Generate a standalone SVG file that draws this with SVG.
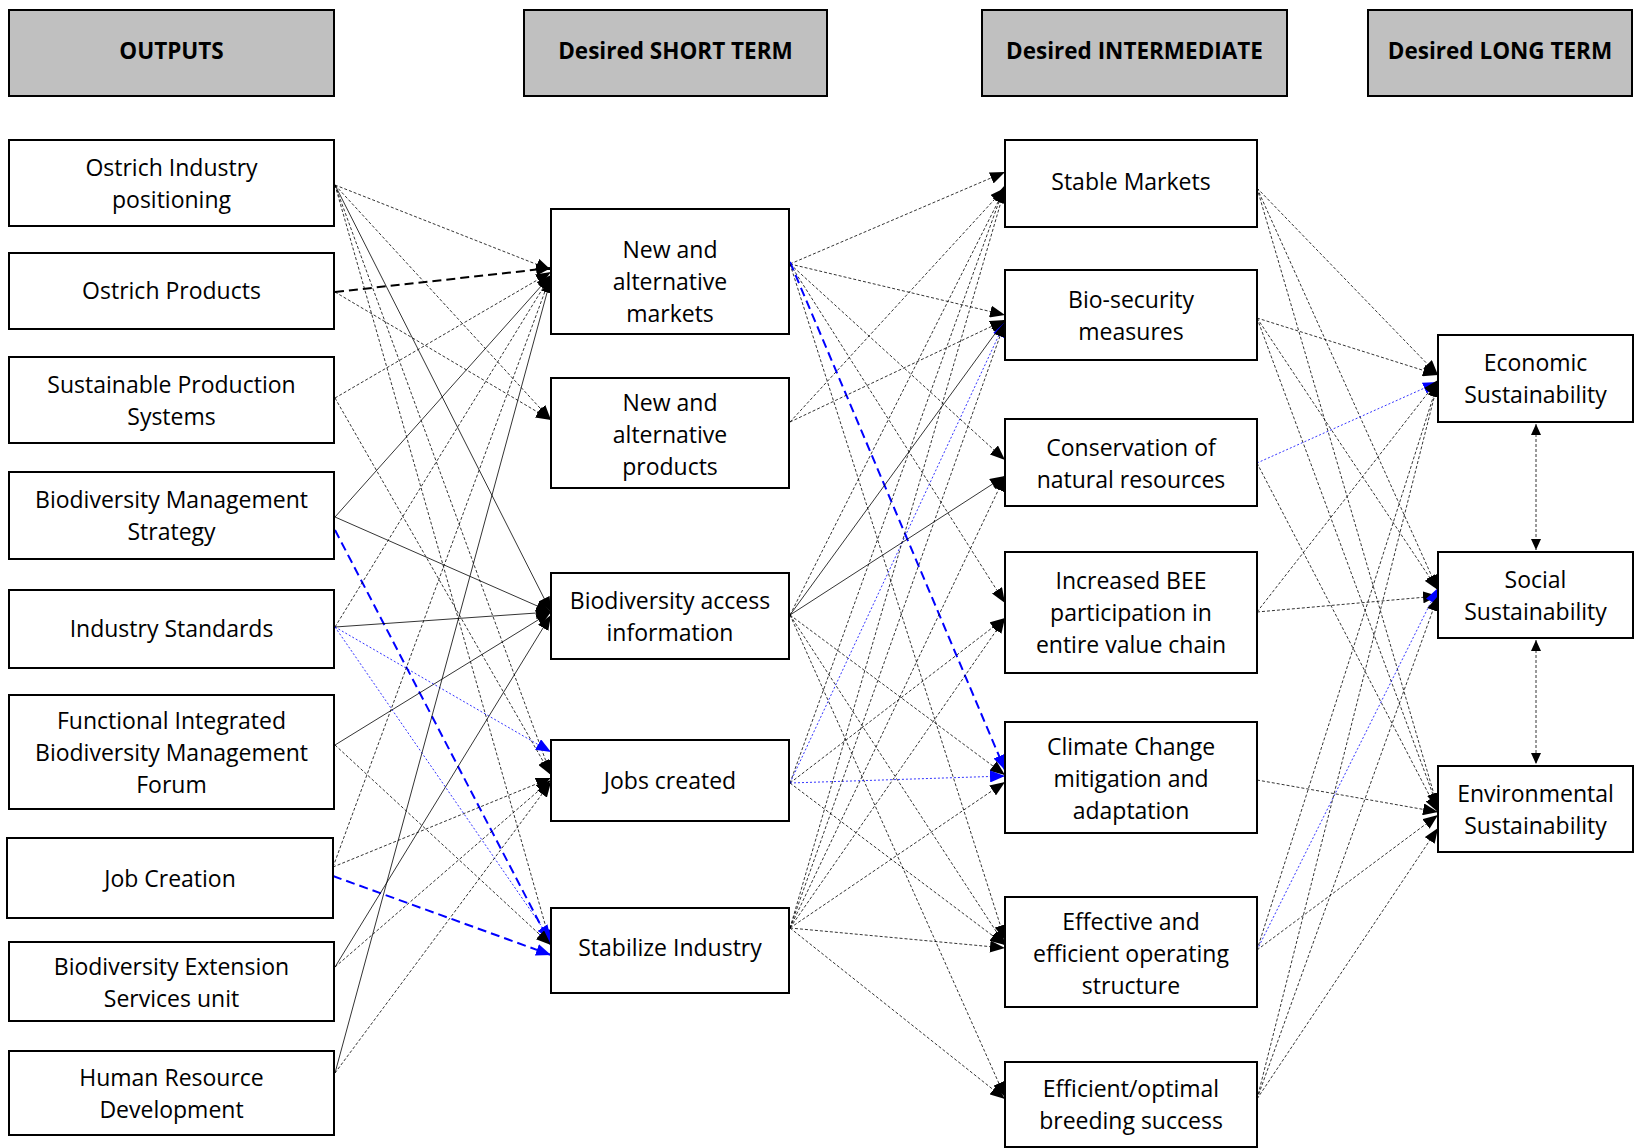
<svg xmlns="http://www.w3.org/2000/svg" width="1635" height="1148" viewBox="0 0 1635 1148">
<style>
.box{fill:#fff;stroke:#000;stroke-width:2}
.hdr{fill:#c0c0c0;stroke:#000;stroke-width:2}
text{font-family:"Open Sans","Liberation Sans",sans-serif;font-size:23px;fill:#000;text-anchor:middle}
.ht{font-weight:bold;font-size:22.5px}
.d{stroke:#000;stroke-width:0.8;stroke-dasharray:3 2;fill:none;marker-end:url(#ab)}
.s{stroke:#000;stroke-width:0.8;fill:none;marker-end:url(#ab)}
.tk{stroke:#000;stroke-width:2;stroke-dasharray:9 5;fill:none;marker-end:url(#ab)}
.bt{stroke:#00f;stroke-width:2;stroke-dasharray:9 5;fill:none;marker-end:url(#au)}
.bd{stroke:#00f;stroke-width:0.8;stroke-dasharray:2 2;fill:none;marker-end:url(#au)}
.bi{stroke:#000;stroke-width:0.8;stroke-dasharray:3 2;fill:none;marker-start:url(#as);marker-end:url(#as)}
</style>
<defs>
<marker id="ab" markerUnits="userSpaceOnUse" markerWidth="15" markerHeight="12" refX="15" refY="6" orient="auto"><path d="M0,0 L15,6 L0,12 z" fill="#000"/></marker>
<marker id="au" markerUnits="userSpaceOnUse" markerWidth="15" markerHeight="12" refX="15" refY="6" orient="auto"><path d="M0,0 L15,6 L0,12 z" fill="#00f"/></marker>
<marker id="as" markerUnits="userSpaceOnUse" markerWidth="11" markerHeight="10" refX="11" refY="5" orient="auto-start-reverse"><path d="M0,0 L11,5 L0,10 z" fill="#000"/></marker>
</defs>
<rect width="1635" height="1148" fill="#fff"/>
<g id="connectors">
<path class="d" d="M335,185 L551,270"/>
<path class="d" d="M335,185 L551,420"/>
<path class="s" d="M335,185 L551,612"/>
<path class="d" d="M335,185 L551,775"/>
<path class="d" d="M335,185 L551,945"/>
<path class="tk" d="M335,292 L551,268"/>
<path class="d" d="M335,292 L551,420"/>
<path class="d" d="M335,398 L551,272"/>
<path class="d" d="M335,398 L551,775"/>
<path class="s" d="M335,517 L551,275"/>
<path class="s" d="M335,517 L551,612"/>
<path class="bt" d="M335,530 L551,945"/>
<path class="d" d="M335,627 L551,275"/>
<path class="s" d="M335,627 L551,612"/>
<path class="bd" d="M335,627 L551,752"/>
<path class="bd" d="M335,627 L551,940"/>
<path class="s" d="M335,745 L551,612"/>
<path class="d" d="M335,745 L551,945"/>
<path class="d" d="M333,867 L551,275"/>
<path class="d" d="M333,867 L551,778"/>
<path class="bt" d="M333,876 L551,955"/>
<path class="s" d="M335,967 L551,615"/>
<path class="d" d="M335,967 L551,780"/>
<path class="s" d="M335,1073 L551,278"/>
<path class="d" d="M335,1073 L551,782"/>
<path class="d" d="M790,264 L1005,172"/>
<path class="d" d="M790,264 L1005,315"/>
<path class="d" d="M790,264 L1005,460"/>
<path class="d" d="M790,264 L1005,603"/>
<path class="bt" d="M790,262 L1005,770"/>
<path class="d" d="M790,264 L1005,940"/>
<path class="d" d="M790,422 L1005,188"/>
<path class="d" d="M790,422 L1005,320"/>
<path class="d" d="M790,615 L1005,188"/>
<path class="s" d="M790,615 L1005,320"/>
<path class="s" d="M790,615 L1005,476"/>
<path class="d" d="M790,615 L1005,775"/>
<path class="d" d="M790,615 L1005,945"/>
<path class="d" d="M790,615 L1005,1097"/>
<path class="d" d="M790,783 L1005,185"/>
<path class="bd" d="M790,783 L1005,322"/>
<path class="d" d="M790,783 L1005,618"/>
<path class="bd" d="M790,783 L1005,776"/>
<path class="d" d="M790,783 L1005,945"/>
<path class="d" d="M790,928 L1005,188"/>
<path class="d" d="M790,928 L1005,322"/>
<path class="d" d="M790,928 L1005,476"/>
<path class="d" d="M790,928 L1005,618"/>
<path class="d" d="M790,928 L1005,782"/>
<path class="d" d="M790,928 L1005,948"/>
<path class="d" d="M790,928 L1005,1099"/>
<path class="d" d="M1257,188 L1438,375"/>
<path class="d" d="M1257,188 L1438,590"/>
<path class="d" d="M1257,188 L1438,808"/>
<path class="d" d="M1257,318 L1438,375"/>
<path class="d" d="M1257,318 L1438,590"/>
<path class="d" d="M1257,318 L1438,808"/>
<path class="bd" d="M1257,463 L1438,382"/>
<path class="d" d="M1257,463 L1438,812"/>
<path class="d" d="M1257,612 L1438,380"/>
<path class="d" d="M1257,612 L1438,596"/>
<path class="d" d="M1257,780 L1438,812"/>
<path class="d" d="M1257,950 L1438,382"/>
<path class="bd" d="M1257,950 L1438,588"/>
<path class="d" d="M1257,950 L1438,815"/>
<path class="d" d="M1257,1099 L1438,382"/>
<path class="d" d="M1257,1099 L1438,596"/>
<path class="d" d="M1257,1099 L1438,828"/>
<path class="bi" d="M1536,424 L1536,550"/>
<path class="bi" d="M1536,640 L1536,764"/>
</g>
<g id="h-outputs"><rect class="hdr" x="9" y="10" width="325" height="86"/><text class="ht" x="171.5" y="59">OUTPUTS</text></g>
<g id="h-short"><rect class="hdr" x="524" y="10" width="303" height="86"/><text class="ht" x="675.5" y="59">Desired SHORT TERM</text></g>
<g id="h-inter"><rect class="hdr" x="982" y="10" width="305" height="86"/><text class="ht" x="1134.5" y="59">Desired INTERMEDIATE</text></g>
<g id="h-long"><rect class="hdr" x="1368" y="10" width="264" height="86"/><text class="ht" x="1500" y="59">Desired LONG TERM</text></g>

<g id="o-oi"><rect class="box" x="9" y="140" width="325" height="86"/><text x="171.5" y="176">Ostrich Industry</text><text x="171.5" y="208">positioning</text></g>
<g id="o-op"><rect class="box" x="9" y="253" width="325" height="76"/><text x="171.5" y="299">Ostrich Products</text></g>
<g id="o-sps"><rect class="box" x="9" y="357" width="325" height="86"/><text x="171.5" y="393">Sustainable Production</text><text x="171.5" y="425">Systems</text></g>
<g id="o-bms"><rect class="box" x="9" y="472" width="325" height="87"/><text x="171.5" y="508">Biodiversity Management</text><text x="171.5" y="540">Strategy</text></g>
<g id="o-is"><rect class="box" x="9" y="590" width="325" height="78"/><text x="171.5" y="637">Industry Standards</text></g>
<g id="o-fi"><rect class="box" x="9" y="695" width="325" height="114"/><text x="171.5" y="729">Functional Integrated</text><text x="171.5" y="761">Biodiversity Management</text><text x="171.5" y="793">Forum</text></g>
<g id="o-jcr"><rect class="box" x="7" y="838" width="326" height="80"/><text x="170" y="887">Job Creation</text></g>
<g id="o-bes"><rect class="box" x="9" y="942" width="325" height="79"/><text x="171.5" y="975">Biodiversity Extension</text><text x="171.5" y="1007">Services unit</text></g>
<g id="o-hr"><rect class="box" x="9" y="1051" width="325" height="84"/><text x="171.5" y="1086">Human Resource</text><text x="171.5" y="1118">Development</text></g>

<g id="s-nm"><rect class="box" x="551" y="209" width="238" height="125"/><text x="670" y="258">New and</text><text x="670" y="290">alternative</text><text x="670" y="322">markets</text></g>
<g id="s-np"><rect class="box" x="551" y="378" width="238" height="110"/><text x="670" y="411">New and</text><text x="670" y="443">alternative</text><text x="670" y="475">products</text></g>
<g id="s-ba"><rect class="box" x="551" y="573" width="238" height="86"/><text x="670" y="609">Biodiversity access</text><text x="670" y="641">information</text></g>
<g id="s-jc"><rect class="box" x="551" y="740" width="238" height="81"/><text x="670" y="789">Jobs created</text></g>
<g id="s-si"><rect class="box" x="551" y="908" width="238" height="85"/><text x="670" y="956">Stabilize Industry</text></g>

<g id="i-sm"><rect class="box" x="1005" y="140" width="252" height="87"/><text x="1131" y="190">Stable Markets</text></g>
<g id="i-bio"><rect class="box" x="1005" y="270" width="252" height="90"/><text x="1131" y="308">Bio-security</text><text x="1131" y="340">measures</text></g>
<g id="i-cons"><rect class="box" x="1005" y="419" width="252" height="87"/><text x="1131" y="456">Conservation of</text><text x="1131" y="488">natural resources</text></g>
<g id="i-bee"><rect class="box" x="1005" y="552" width="252" height="121"/><text x="1131" y="589">Increased BEE</text><text x="1131" y="621">participation in</text><text x="1131" y="653">entire value chain</text></g>
<g id="i-clim"><rect class="box" x="1005" y="722" width="252" height="111"/><text x="1131" y="755">Climate Change</text><text x="1131" y="787">mitigation and</text><text x="1131" y="819">adaptation</text></g>
<g id="i-eff"><rect class="box" x="1005" y="897" width="252" height="110"/><text x="1131" y="930">Effective and</text><text x="1131" y="962">efficient operating</text><text x="1131" y="994">structure</text></g>
<g id="i-opt"><rect class="box" x="1005" y="1062" width="252" height="85"/><text x="1131" y="1097">Efficient/optimal</text><text x="1131" y="1129">breeding success</text></g>

<g id="l-eco"><rect class="box" x="1438" y="335" width="195" height="87"/><text x="1535.5" y="371">Economic</text><text x="1535.5" y="403">Sustainability</text></g>
<g id="l-soc"><rect class="box" x="1438" y="552" width="195" height="86"/><text x="1535.5" y="588">Social</text><text x="1535.5" y="620">Sustainability</text></g>
<g id="l-env"><rect class="box" x="1438" y="766" width="195" height="86"/><text x="1535.5" y="802">Environmental</text><text x="1535.5" y="834">Sustainability</text></g>
</svg>
